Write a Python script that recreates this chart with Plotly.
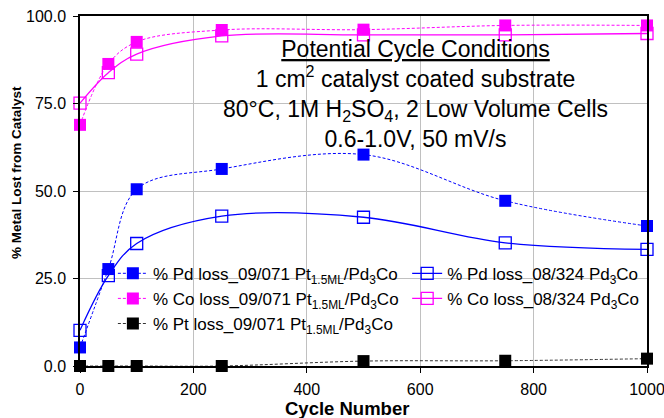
import plotly.graph_objects as go

# Cycle counts and metal-loss percentages
cycles = [0, 50, 100, 250, 500, 750, 1000]
pd_loss_09_071 = [5.3, 27.7, 50.5, 56.3, 60.4, 47.2, 40.0]
co_loss_09_071 = [68.9, 86.3, 92.6, 96.0, 96.1, 97.3, 97.3]
pt_loss_09_071 = [0.0, 0.0, 0.0, 0.0, 1.4, 1.5, 2.1]
pd_loss_08_324 = [10.2, 25.8, 35.0, 42.8, 42.5, 35.2, 33.3]
co_loss_08_324 = [75.1, 83.8, 89.1, 94.3, 94.6, 94.6, 95.0]

x_ticks = [0, 200, 400, 600, 800, 1000]
y_ticks = [0, 25, 50, 75, 100]

conditions = [
    "<u>Potential Cycle Conditions</u>",
    "1 cm<sup>2</sup> catalyst coated substrate",
    "80°C, 1M H<sub>2</sub>SO<sub>4</sub>, 2 Low Volume Cells",
    "0.6-1.0V, 50 mV/s",
]

FONT = "Liberation Sans, Arial, sans-serif"
BLUE = "#0000FF"
MAGENTA = "#FF00FF"
DOT = "3px,2px"

fig = go.Figure()

# open-marker series (solid smoothed lines), second legend
fig.add_trace(go.Scatter(
    x=cycles, y=pd_loss_08_324, mode="lines+markers",
    name="% Pd loss_08/324 Pd<sub>3</sub>Co", legend="legend2",
    line=dict(color=BLUE, width=1.3, shape="spline"),
    marker=dict(symbol="square-open", size=12, color=BLUE, line=dict(width=1.3)),
    cliponaxis=False))
fig.add_trace(go.Scatter(
    x=cycles, y=co_loss_08_324, mode="lines+markers",
    name="% Co loss_08/324 Pd<sub>3</sub>Co", legend="legend2",
    line=dict(color=MAGENTA, width=1.3, shape="spline"),
    marker=dict(symbol="square-open", size=12, color=MAGENTA, line=dict(width=1.3)),
    cliponaxis=False))

# filled-marker series (dotted smoothed lines), first legend
fig.add_trace(go.Scatter(
    x=cycles, y=pd_loss_09_071, mode="lines+markers",
    name="% Pd loss_09/071 Pt<sub>1.5ML</sub>/Pd<sub>3</sub>Co", legend="legend",
    line=dict(color=BLUE, width=1, dash=DOT, shape="spline"),
    marker=dict(symbol="square", size=12, color=BLUE),
    cliponaxis=False))
fig.add_trace(go.Scatter(
    x=cycles, y=co_loss_09_071, mode="lines+markers",
    name="% Co loss_09/071 Pt<sub>1.5ML</sub>/Pd<sub>3</sub>Co", legend="legend",
    line=dict(color=MAGENTA, width=1, dash=DOT, shape="spline"),
    marker=dict(symbol="square", size=12, color=MAGENTA),
    cliponaxis=False))
fig.add_trace(go.Scatter(
    x=cycles, y=pt_loss_09_071, mode="lines+markers",
    name="% Pt loss_09/071 Pt<sub>1.5ML</sub>/Pd<sub>3</sub>Co", legend="legend",
    line=dict(color="#333333", width=1, dash=DOT, shape="spline"),
    marker=dict(symbol="square", size=12, color="black"),
    cliponaxis=False))

# experimental conditions block
fig.add_annotation(text="<br>".join(conditions), x=0.591, y=0.776,
                   xref="paper", yref="paper", xanchor="center", yanchor="middle",
                   align="center", showarrow=False,
                   font=dict(family=FONT, size=23, color="black"))

# axis titles
fig.add_annotation(text="<b>Cycle Number</b>", x=0.471, y=-0.121,
                   xref="paper", yref="paper", xanchor="center", yanchor="middle",
                   showarrow=False, font=dict(family=FONT, size=18.5, color="black"))
fig.add_annotation(text="<b>% Metal Lost from Catalyst</b>", x=-0.113, y=0.554,
                   xref="paper", yref="paper", xanchor="center", yanchor="middle",
                   textangle=-90, showarrow=False,
                   font=dict(family=FONT, size=13.5, color="black"))

legend_style = dict(bgcolor="rgba(0,0,0,0)", borderwidth=0,
                    font=dict(family=FONT, size=17, color="black"),
                    xanchor="left", yanchor="top", tracegroupgap=0,
                    traceorder="normal")

fig.update_layout(
    width=664, height=418,
    margin=dict(l=80, r=17, t=16, b=52),
    paper_bgcolor="white", plot_bgcolor="white",
    font=dict(family=FONT, color="black"),
    showlegend=True,
    legend=dict(x=0.058, y=0.315, **legend_style),
    legend2=dict(x=0.577, y=0.315, **legend_style),
    xaxis=dict(
        range=[0, 1000], tickvals=x_ticks, ticks="outside", ticklen=5,
        tickcolor="black", tickfont=dict(size=16), automargin=False,
        ticklabeloverflow="allow", ticklabelstandoff=3,
        showgrid=True, gridcolor="#C0C0C0", gridwidth=1,
        showline=True, linecolor="black", linewidth=1.5, mirror=True,
        zeroline=False,
    ),
    yaxis=dict(
        range=[0, 100], tickvals=y_ticks, tickformat=".1f", ticks="outside",
        ticklen=5, tickcolor="black", tickfont=dict(size=16), automargin=False,
        ticklabeloverflow="allow", ticklabelstandoff=4,
        showgrid=True, gridcolor="#C0C0C0", gridwidth=1,
        showline=True, linecolor="black", linewidth=1.5, mirror=True,
        zeroline=False,
    ),
)

fig.write_html("out.html")
